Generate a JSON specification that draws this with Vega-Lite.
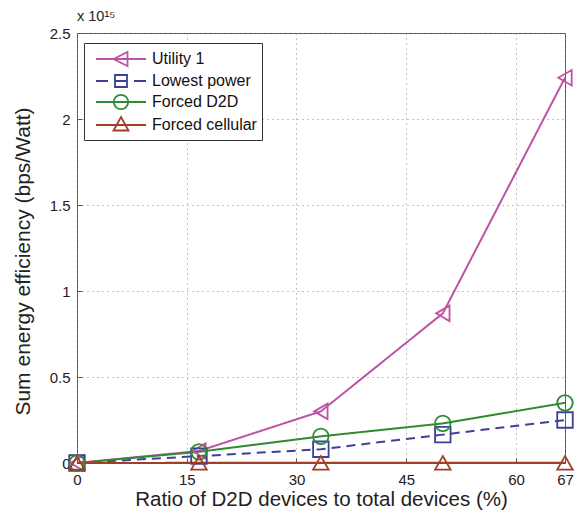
{
  "$schema": "https://vega.github.io/schema/vega-lite/v6.json",
  "autosize": "none",
  "width": 488,
  "height": 430,
  "padding": {"left": 77, "top": 33, "right": 16, "bottom": 53},
  "background": "white",
  "title": {"text": "x 10¹⁵", "anchor": "start", "frame": "group", "fontSize": 14.5, "fontWeight": "normal", "font": "Liberation Sans", "offset": 2, "dx": 0, "color": "#222"},
  "config": {
    "view": {"stroke": "#555", "strokeWidth": 1},
    "axis": {"labelFont": "Liberation Sans", "titleFont": "Liberation Sans", "labelFontSize": 15, "titleFontWeight": "normal", "labelColor": "#222", "titleColor": "#222", "domain": false, "tickColor": "#555", "gridColor": "#888", "gridDash": [1, 4], "gridWidth": 1, "labelFlush": false, "labelOverlap": false, "labelBound": false}
  },
  "data": {"values": [
    {"x": 0, "y": 0, "series": "Utility 1"},
    {"x": 16.67, "y": 0.07, "series": "Utility 1"},
    {"x": 33.33, "y": 0.30, "series": "Utility 1"},
    {"x": 50, "y": 0.87, "series": "Utility 1"},
    {"x": 66.7, "y": 2.24, "series": "Utility 1"},
    {"x": 0, "y": 0, "series": "Lowest power"},
    {"x": 16.67, "y": 0.04, "series": "Lowest power"},
    {"x": 33.33, "y": 0.08, "series": "Lowest power"},
    {"x": 50, "y": 0.165, "series": "Lowest power"},
    {"x": 66.7, "y": 0.25, "series": "Lowest power"},
    {"x": 0, "y": 0, "series": "Forced D2D"},
    {"x": 16.67, "y": 0.065, "series": "Forced D2D"},
    {"x": 33.33, "y": 0.155, "series": "Forced D2D"},
    {"x": 50, "y": 0.23, "series": "Forced D2D"},
    {"x": 66.7, "y": 0.35, "series": "Forced D2D"},
    {"x": 0, "y": 0, "series": "Forced cellular"},
    {"x": 16.67, "y": 0.001, "series": "Forced cellular"},
    {"x": 33.33, "y": 0.001, "series": "Forced cellular"},
    {"x": 50, "y": 0.001, "series": "Forced cellular"},
    {"x": 66.7, "y": 0.001, "series": "Forced cellular"}
  ]},
  "encoding": {
    "x": {"field": "x", "type": "quantitative", "scale": {"domain": [0, 66.7], "nice": false},
      "axis": {"values": [0, 15, 30, 45, 60, 66.7], "labelExpr": "datum.value > 66 ? '67' : datum.label", "title": "Ratio of D2D devices to total devices (%)", "titleFontSize": 20.5, "tickSize": -5, "labelPadding": 14, "titlePadding": 2, "grid": true}},
    "y": {"field": "y", "type": "quantitative", "scale": {"domain": [0, 2.5], "nice": false},
      "axis": {"values": [0, 0.5, 1, 1.5, 2, 2.5], "format": "~g", "title": "Sum energy efficiency (bps/Watt)", "titleFontSize": 21, "titleY": 228, "tickSize": -5, "labelPadding": 12, "titlePadding": 16, "grid": true}}
  },
  "layer": [
    {
      "mark": {"type": "line", "strokeWidth": 2},
      "encoding": {
        "color": {"field": "series", "type": "nominal", "scale": {"domain": ["Utility 1", "Lowest power", "Forced D2D", "Forced cellular"], "range": ["#c052a6", "#3f3f98", "#2f8a34", "#a23d28"]}, "legend": null},
        "strokeDash": {"field": "series", "type": "nominal", "scale": {"domain": ["Utility 1", "Lowest power", "Forced D2D", "Forced cellular"], "range": [[1, 0], [9, 6], [1, 0], [1, 0]]}, "legend": null}
      }
    },
    {
      "mark": {"type": "point", "filled": false, "strokeWidth": 1.8, "size": 240, "opacity": 1},
      "encoding": {
        "color": {"field": "series", "type": "nominal", "scale": {"domain": ["Utility 1", "Lowest power", "Forced D2D", "Forced cellular"], "range": ["#c052a6", "#3f3f98", "#2f8a34", "#a23d28"]}, "legend": null},
        "shape": {"field": "series", "type": "nominal", "scale": {"domain": ["Utility 1", "Lowest power", "Forced D2D", "Forced cellular"], "range": ["triangle-left", "square", "circle", "triangle-up"]}, "legend": null}
      }
    },
    {
      "transform": [{"filter": "datum.x < 0"}],
      "mark": {"type": "point", "filled": false, "strokeWidth": 1.8, "opacity": 1},
      "encoding": {
        "color": {"field": "series", "type": "nominal", "scale": {"domain": ["Utility 1", "Lowest power", "Forced D2D", "Forced cellular"], "range": ["#c052a6", "#3f3f98", "#2f8a34", "#a23d28"]},
          "legend": {"title": null, "orient": "none", "legendX": 7, "legendY": 10, "symbolSize": 400, "symbolStrokeWidth": 1.8, "symbolOffset": 21, "labelOffset": 20, "labelFontSize": 16, "labelFont": "Liberation Sans", "labelColor": "#111", "strokeColor": "#333", "fillColor": "white", "padding": 5, "rowPadding": 0, "symbolFillColor": "transparent"}},
        "shape": {"field": "series", "type": "nominal",
          "scale": {"domain": ["Utility 1", "Lowest power", "Forced D2D", "Forced cellular"],
            "range": [
              "M-2.5,0H2.5M-0.75,0L0.65,-0.7L0.65,0.7Z",
              "M-2.5,0H-1.3M-0.6,0H0.6M1.3,0H2.5M-0.6,-0.6H0.6V0.6H-0.6Z",
              "M-2.5,0H2.5M-0.72,0A0.72,0.72,0,1,0,0.72,0A0.72,0.72,0,1,0,-0.72,0Z",
              "M-2.5,0H2.5M0,-0.8L0.75,0.55L-0.75,0.55Z"
            ]},
          "legend": {"title": null, "orient": "none", "legendX": 7, "legendY": 10, "symbolSize": 400, "symbolStrokeWidth": 1.8, "symbolOffset": 21, "labelOffset": 20, "labelFontSize": 16, "labelFont": "Liberation Sans", "labelColor": "#111", "strokeColor": "#333", "fillColor": "white", "padding": 5, "rowPadding": 0, "symbolFillColor": "transparent"}
        }
      }
    }
  ],
  "resolve": {"scale": {"shape": "independent", "color": "independent"}}
}
